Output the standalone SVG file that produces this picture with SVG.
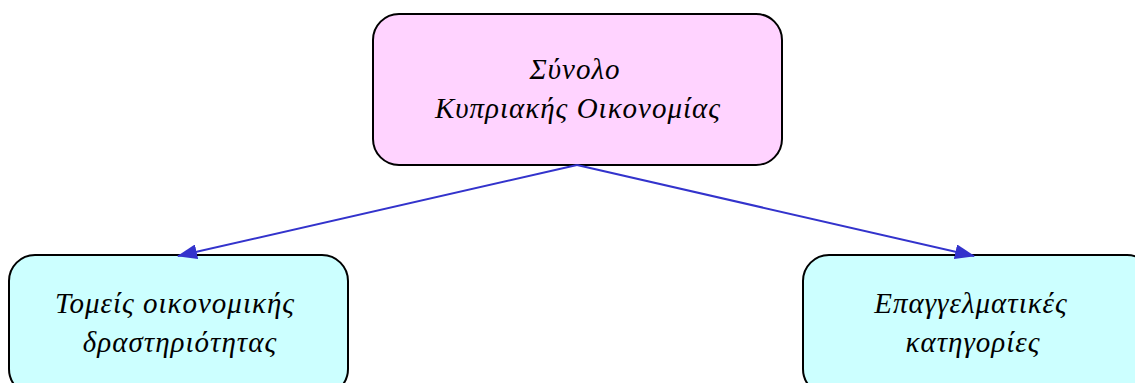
<svg xmlns="http://www.w3.org/2000/svg" width="1135" height="383" viewBox="0 0 1135 383">
<style>
.box{stroke:#000;stroke-width:2}
.top{fill:#FFD3FF}
.sub{fill:#CCFFFF}
text{font-family:"Liberation Serif",serif;font-style:italic;font-size:29px;letter-spacing:1px;fill:#000;text-anchor:middle}
.conn{stroke:#3333CC;stroke-width:2;fill:none}
</style>
<defs>
<marker id="ah" markerWidth="20" markerHeight="15" refX="19" refY="7.5" orient="auto" markerUnits="userSpaceOnUse" viewBox="0 0 20 15">
<path d="M0,0 L20,7.5 L0,15 z" fill="#3333CC"/>
</marker>
</defs>
<rect width="1135" height="383" fill="#fff"/>
<g id="node-total">
<rect class="box top" x="373" y="14" width="409" height="151" rx="26"/>
<text x="575" y="79">Σύνολο</text>
<text x="578" y="118">Κυπριακής Οικονομίας</text>
</g>
<g id="node-sectors">
<rect class="box sub" x="9" y="255" width="339" height="140" rx="26"/>
<text x="175" y="313">Τομείς οικονομικής</text>
<text x="180" y="352">δραστηριότητας</text>
</g>
<g id="node-occupations">
<rect class="box sub" x="803" y="255" width="350" height="140" rx="26"/>
<text x="971" y="313">Επαγγελματικές</text>
<text x="973" y="352">κατηγορίες</text>
</g>
<g id="connectors">
<line class="conn" x1="577" y1="165" x2="178" y2="256" marker-end="url(#ah)"/>
<line class="conn" x1="577" y1="165" x2="974" y2="256" marker-end="url(#ah)"/>
</g>
</svg>
